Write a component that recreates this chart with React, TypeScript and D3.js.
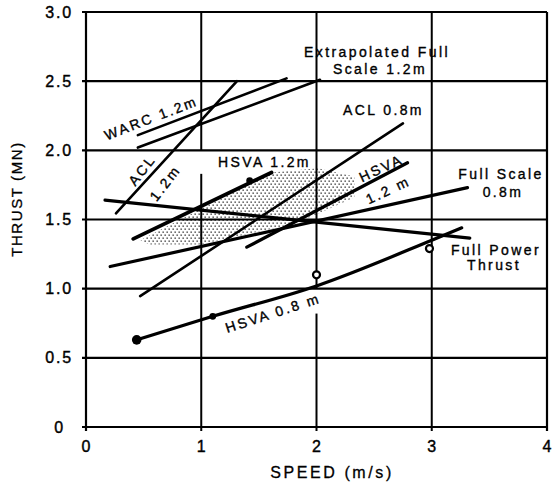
import React from "react";
import * as d3 from "d3";

// ---- data (speed m/s, thrust MN) ----
const xTickValues = [0, 1, 2, 3, 4];
const xTickLabels = ["0", "1", "2", "3", "4"];
const yTickValues = [0, 0.5, 1.0, 1.5, 2.0, 2.5, 3.0];
const yTickLabels = ["0", "0.5", "1.0", "1.5", "2.0", "2.5", "3.0"];

const warc12: [number, number][] = [[0.45, 2.11], [1.74, 2.52]];
const extrapolatedFull12: [number, number][] = [[0.45, 2.02], [2.03, 2.51]];
const acl12: [number, number][] = [[0.26, 1.545], [1.31, 2.5]];
const hsva12: [number, number][] = [[0.41, 1.36], [1.61, 1.84]];
const acl08: [number, number][] = [[0.47, 0.946], [2.75, 2.195]];
const hsva12b: [number, number][] = [[1.395, 1.3], [2.79, 1.91]];
const fullScale08: [number, number][] = [[0.21, 1.16], [3.31, 1.73]];
const fullPowerThrust: [number, number][] = [[0.165, 1.64], [3.33, 1.365]];
const hsva08: [number, number][] = [[0.44, 0.63], [1.1, 0.8], [2.0, 1.02], [3.0, 1.35], [3.26, 1.44]];

const shadedBand: [number, number][] = [
  [0.47, 1.35], [1.61, 1.84], [2.01, 1.87], [2.33, 1.81], [2.33, 1.66],
  [2.01, 1.54], [1.77, 1.46], [1.38, 1.39], [0.99, 1.32], [0.55, 1.32],
];

const filledPoints: [number, number][] = [[0.44, 0.63], [1.1, 0.8], [1.42, 1.78]];
const openPoints: [number, number][] = [[2.0, 1.1], [2.98, 1.29]];

const gridGaps = [
  { x: 1, from: 1.83, to: 2.0 },
  { x: 2, from: 0.82, to: 1.0 },
];

const W = 558;
const H = 483;
const FONT = "'Liberation Sans', Arial, Helvetica, sans-serif";

export default function App() {
  const x = d3.scaleLinear().domain([0, 4]).range([86, 547]);
  const y = d3.scaleLinear().domain([0, 3]).range([427, 12]);
  const line = d3.line<[number, number]>().x((d) => x(d[0])).y((d) => y(d[1]));
  const curve = d3
    .line<[number, number]>()
    .x((d) => x(d[0]))
    .y((d) => y(d[1]))
    .curve(d3.curveMonotoneX);
  const area = d3.line<[number, number]>().x((d) => x(d[0])).y((d) => y(d[1])).curve(d3.curveLinearClosed);

  // vertical grid segments with gaps
  const vSegments: { xv: number; y0: number; y1: number }[] = [];
  [1, 2, 3].forEach((xv) => {
    const gaps = gridGaps.filter((g) => g.x === xv);
    let start = 0;
    gaps.forEach((g) => {
      vSegments.push({ xv, y0: start, y1: g.from });
      start = g.to;
    });
    vSegments.push({ xv, y0: start, y1: 3 });
  });

  const lbl = (
    key: string,
    text: string,
    px: number,
    py: number,
    opts: { anchor?: string; rot?: number; size?: number; ls?: number; central?: boolean } = {}
  ) => (
    <text
      key={key}
      x={px}
      y={py}
      textAnchor={opts.anchor || "start"}
      dominantBaseline={opts.central ? "central" : undefined}
      transform={opts.rot ? `rotate(${opts.rot},${px},${py})` : undefined}
      fontSize={opts.size || 14}
      letterSpacing={opts.ls ?? 2.4}
      fontFamily={FONT}
      fill="#000"
      stroke="#000"
      strokeWidth={0.35}
    >
      {text}
    </text>
  );

  return (
    <svg width={W} height={H} style={{ position: "absolute", left: 0, top: 0, background: "#fff" }}>
      <defs>
        <pattern id="stipple" width="4" height="6" patternUnits="userSpaceOnUse">
          <rect x="0.5" y="0.5" width="1.3" height="1.3" fill="#222" />
          <rect x="2.5" y="3.5" width="1.3" height="1.3" fill="#222" />
        </pattern>
      </defs>
      <rect width={W} height={H} fill="#fff" />

      {/* shaded band */}
      <path d={area(shadedBand) || ""} fill="url(#stipple)" stroke="none" />

      {/* horizontal grid */}
      {yTickValues.map((v) => (
        <line key={"h" + v} x1={x(0) - 4} x2={x(4)} y1={y(v)} y2={y(v)} stroke="#000" strokeWidth={2.2} />
      ))}
      {/* vertical grid */}
      {vSegments.map((s, i) => (
        <line key={"v" + i} x1={x(s.xv)} x2={x(s.xv)} y1={y(s.y0)} y2={y(s.y1)} stroke="#000" strokeWidth={2} />
      ))}
      {/* frame */}
      <line x1={x(0)} x2={x(0)} y1={y(0) + 4} y2={y(3)} stroke="#000" strokeWidth={2.2} />
      <line x1={x(4)} x2={x(4)} y1={y(0) + 4} y2={y(3)} stroke="#000" strokeWidth={2.2} />
      {[1, 2, 3].map((v) => (
        <line key={"t" + v} x1={x(v)} x2={x(v)} y1={y(0)} y2={y(0) + 4} stroke="#000" strokeWidth={2} />
      ))}

      {/* curves */}
      <g fill="none" stroke="#000" strokeLinecap="round">
        <path d={line(warc12) || ""} strokeWidth={2.6} />
        <path d={line(extrapolatedFull12) || ""} strokeWidth={2.6} />
        <path d={line(acl12) || ""} strokeWidth={2.6} />
        <path d={line(hsva12) || ""} strokeWidth={3.8} />
        <path d={line(acl08) || ""} strokeWidth={2.6} />
        <path d={line(hsva12b) || ""} strokeWidth={3.2} />
        <path d={line(fullScale08) || ""} strokeWidth={3.2} />
        <path d={line(fullPowerThrust) || ""} strokeWidth={3.2} />
        <path d={curve(hsva08) || ""} strokeWidth={3.2} />
      </g>

      {/* points */}
      {filledPoints.map((p, i) => (
        <circle key={"fp" + i} cx={x(p[0])} cy={y(p[1])} r={i === 0 ? 4.8 : 3.4} fill="#000" />
      ))}
      {openPoints.map((p, i) => (
        <circle key={"op" + i} cx={x(p[0])} cy={y(p[1])} r={3.5} fill="#fff" stroke="#000" strokeWidth={2.2} />
      ))}

      {/* tick labels */}
      {yTickValues.map((v, i) => (
        <text
          key={"yl" + v}
          x={v === 0 ? x(0) - 21 : x(0) - 13}
          y={y(v)}
          dominantBaseline="central"
          textAnchor="end"
          fontSize={16}
          letterSpacing={1.8}
          fontFamily={FONT}
          stroke="#000"
          strokeWidth={0.4}
        >
          {yTickLabels[i]}
        </text>
      ))}
      {xTickValues.map((v, i) => (
        <text
          key={"xl" + v}
          x={x(v)}
          y={452}
          textAnchor="middle"
          fontSize={16}
          fontFamily={FONT}
          stroke="#000"
          strokeWidth={0.4}
        >
          {xTickLabels[i]}
        </text>
      ))}

      {/* axis titles */}
      <text
        x={16}
        y={199}
        transform="rotate(-90,16,199)"
        textAnchor="middle"
        dominantBaseline="central"
        fontSize={15}
        letterSpacing={1.6}
        fontFamily={FONT}
        stroke="#000"
        strokeWidth={0.3}
      >
        THRUST (MN)
      </text>
      <text
        x={332}
        y={478}
        textAnchor="middle"
        fontSize={16}
        letterSpacing={2.6}
        fontFamily={FONT}
        stroke="#000"
        strokeWidth={0.3}
      >
        SPEED (m/s)
      </text>

      {/* annotations */}
      {lbl("ef1", "Extrapolated Full", 377, 57, { anchor: "middle" })}
      {lbl("ef2", "Scale 1.2m", 380, 74, { anchor: "middle" })}
      {lbl("acl08", "ACL 0.8m", 343, 115)}
      {lbl("hsva12", "HSVA 1.2m", 218, 167)}
      {lbl("hsvab1", "HSVA", 381, 168, { anchor: "middle", rot: -25, central: true })}
      {lbl("hsvab2", "1.2 m", 388, 190, { anchor: "middle", rot: -25, central: true })}
      {lbl("fs1", "Full Scale", 501, 179, { anchor: "middle" })}
      {lbl("fs2", "0.8m", 503, 197, { anchor: "middle" })}
      {lbl("fp1", "Full Power", 496, 255, { anchor: "middle" })}
      {lbl("fp2", "Thrust", 494, 270, { anchor: "middle" })}
      {lbl("hsva08", "HSVA 0.8 m", 273, 313, { anchor: "middle", rot: -18, central: true })}
      {lbl("warc", "WARC 1.2m", 151, 118, { anchor: "middle", rot: -21, central: true })}
      {lbl("acl12a", "ACL", 142, 170, { anchor: "middle", rot: -52, central: true })}
      {lbl("acl12b", "1.2m", 165, 183, { anchor: "middle", rot: -52, central: true })}
    </svg>
  );
}
